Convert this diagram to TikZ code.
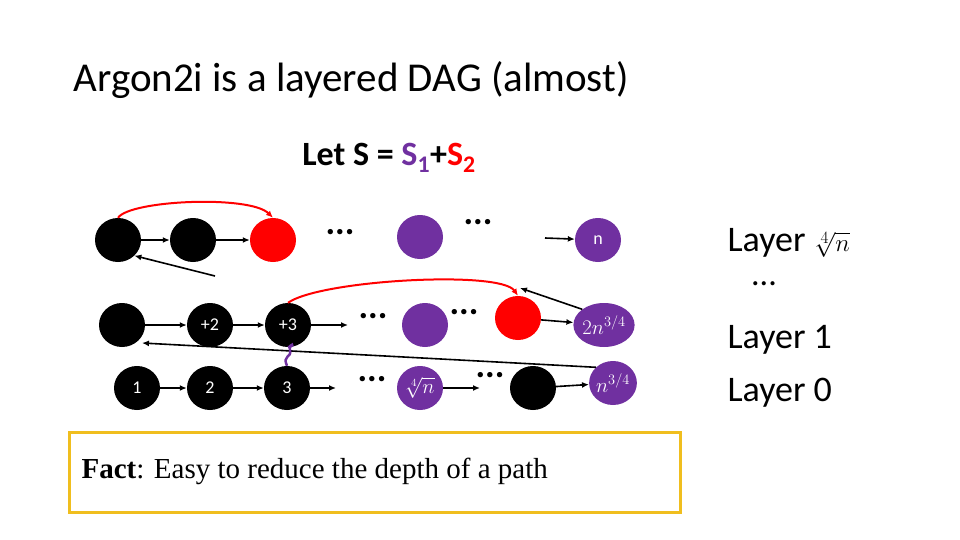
\documentclass[tikz,border=0pt]{standalone}
\usepackage{fontspec}
\setmainfont{Carlito}
\newfontfamily\serifl{Liberation Serif}
\usetikzlibrary{arrows.meta,shapes.geometric}
\definecolor{pur}{RGB}{112,48,160}
\definecolor{gold}{RGB}{240,190,30}
\begin{document}
\begin{tikzpicture}[x=1pt,y=-1pt,
  nd/.style={ellipse,draw=none,fill=black,minimum width=46pt,minimum height=44pt,inner sep=0pt,text=white,font=\fontsize{18}{20}\selectfont},
  pn/.style={nd,fill=pur},
  rn/.style={nd,fill=red},
  ar/.style={-{Latex[length=7pt,width=6pt]},line width=1.6pt},
  rar/.style={ar,red,line width=2pt},
  dots/.style={font=\fontsize{36}{36}\selectfont\bfseries,inner sep=0pt}]
\useasboundingbox (0,0) rectangle (960,540);
\node[anchor=west,font=\fontsize{41}{46}\selectfont] (title) at (70,80) {Argon2i is a layered DAG (almost)};
\node[font=\fontsize{34}{38}\selectfont\bfseries] (lets) at (389,158) {Let S = {\color{pur}S\textsubscript{1}}+{\color{red}S\textsubscript{2}}};
% top row
\node[nd] (a1) at (118,240) {};
\node[nd] (a2) at (193,240) {};
\node[rn] (a3) at (273,240) {};
\node[dots] (ad1) at (340,232) {...};
\node[pn] (a4) at (420,237) {};
\node[dots] (ad2) at (478,222) {...};
\node[pn] (an) at (598,240) {n};
\coordinate (anin) at (545,238);
\coordinate (afree) at (215,276);
\draw[ar] (a1) -- (a2);
\draw[ar] (a2) -- (a3);
\draw[ar] (anin) -- (an);
\draw[rar] (a1.north) .. controls (130,200) and (250,195) .. (a3.north);
\draw[ar] (afree) -- (a1.south east);
% middle row
\node[nd] (b1) at (122,325) {};
\node[nd] (b2) at (210,325) {+2};
\node[nd] (b3) at (288,325) {+3};
\node[dots] (bd1) at (373,316) {...};
\node[pn] (b4) at (425,325) {};
\node[dots] (bd2) at (464,312) {...};
\node[rn] (b5) at (518,318) {};
\node[pn,font=\fontsize{22}{24}\selectfont] (bn) at (604,325) {$2n^{3/4}$};
\draw[ar] (b1) -- (b2);
\draw[ar] (b2) -- (b3);
\draw[ar] (b3) -- (348,325);
\draw[ar] (b5) -- (bn);
\draw[rar] (b3.north) .. controls (320,280) and (500,270) .. (b5.north);
\coordinate (bfree) at (520,288);
\draw[ar] (bn.north west) -- (bfree);
% bottom row
\node[nd] (c1) at (137,388) {1};
\node[nd] (c2) at (210,388) {2};
\node[nd] (c3) at (287,388) {3};
\node[dots] (cd1) at (372,379) {...};
\node[pn,font=\fontsize{22}{24}\selectfont] (c4) at (420,388) {$\sqrt[4]{n}$};
\node[dots] (cd2) at (490,375) {...};
\node[nd] (c5) at (533,388) {};
\node[pn,font=\fontsize{22}{24}\selectfont] (cn) at (613,383) {$n^{3/4}$};
\draw[ar] (c1) -- (c2);
\draw[ar] (c2) -- (c3);
\draw[ar] (c3) -- (336,388);
\draw[ar] (c4) -- (480,388);
\draw[ar] (c5) -- (cn);
\draw[ar] (cn.north west) -- (142,343);
\draw[pur,line width=2.5pt] (c3.north) .. controls (282,355) and (292,358) .. (290,350) .. controls (288,342) and (298,345) .. (b3.south);
% right labels
\node[anchor=west,font=\fontsize{36}{40}\selectfont] (l3) at (724,243) {Layer $\sqrt[4]{n}$};
\node[dots,font=\fontsize{34}{34}\selectfont] (ld) at (764,284) {...};
\node[anchor=west,font=\fontsize{36}{40}\selectfont] (l1) at (724,340) {Layer 1};
\node[anchor=west,font=\fontsize{36}{40}\selectfont] (l0) at (724,393) {Layer 0};
% fact box
\draw[gold,line width=3pt] (69,432) rectangle (680,512);
\node[anchor=west,font=\serifl\fontsize{29}{32}\selectfont] (fact) at (78,471) {\textbf{Fact}: Easy to reduce the depth of a path};
\end{tikzpicture}
\end{document}
